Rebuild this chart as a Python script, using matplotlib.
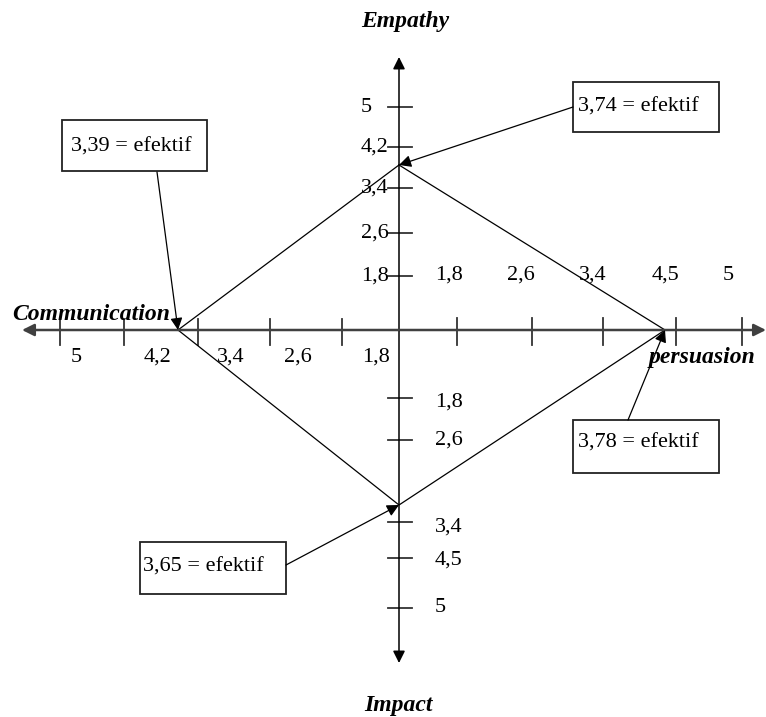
import numpy as np
import matplotlib.pyplot as plt
from matplotlib.patches import Rectangle

plt.rcParams['font.family'] = ['Liberation Serif', 'DejaVu Serif']

# arms of the diagram, in order: up, right, down, left
arm_names = ['Empathy', 'persuasion', 'Impact', 'Communication']
arm_scores = ['3,74', '3,78', '3,65', '3,39']
score_status = ['efektif', 'efektif', 'efektif', 'efektif']
# distance of each diamond corner from the centre
corner_dist = [165, 266, 175, 221]

up_ticks = ['1,8', '2,6', '3,4', '4,2', '5']
right_ticks = ['1,8', '2,6', '3,4', '4,5', '5']
down_ticks = ['1,8', '2,6', '3,4', '4,5', '5']
left_ticks = ['1,8', '2,6', '3,4', '4,2', '5']

# layout (pixel units from the centre of the cross)
up_tick_pos = [54, 97, 142, 183, 223]
right_tick_pos = [58, 133, 204, 277, 343]
down_tick_pos = [68, 110, 192, 228, 278]
left_tick_pos = [57, 129, 201, 275, 339]
right_label_pos = [50, 122, 194, 266, 329]
down_label_pos = [72, 110, 197, 230, 277]
left_label_pos = [23, 101, 168, 241, 323]

directions = [(0, 1), (1, 0), (0, -1), (-1, 0)]
arm_length = [273, 367, 333, 377]
# callout boxes: (x0, y0, width, height), start of arrow, text anchor
boxes = [(174, 198, 146, 50), (174, -143, 146, 53), (-259, -264, 146, 52), (-337, 159, 145, 51)]
arrow_start = [(174, 223), (229, -90), (-113, -235), (-242, 158)]
text_anchor = [(179, 223), (179, -113), (-256, -237), (-328, 183)]

FS = 16
head = '-|>,head_length=0.5,head_width=0.25'


def draw_arrow(ax, start, end, lw, color):
    ax.annotate('', xy=end, xytext=start,
                arrowprops=dict(arrowstyle=head, mutation_scale=14.4, lw=lw,
                                color=color, shrinkA=0, shrinkB=0))


fig = plt.figure(figsize=(7.66, 7.17), dpi=100)
ax = fig.add_axes([0, 0, 1, 1])
ax.set_xlim(-399, 367)
ax.set_ylim(-387, 330)
ax.axis('off')

# axes of the cross
for i, (dx, dy) in enumerate(directions):
    L = arm_length[i]
    if dx != 0:
        draw_arrow(ax, (0, 0), (dx * L, 0), 1.8, '#404040')
    else:
        draw_arrow(ax, (0, 0), (0, dy * L), 1.1, 'black')

# tick marks
for p in right_tick_pos:
    ax.plot([p, p], [12, -15], color='#333333', lw=1.3)
for p in left_tick_pos:
    ax.plot([-p, -p], [11, -15], color='#333333', lw=1.3)
for p in up_tick_pos:
    ax.plot([-11, 13], [p, p], color='#333333', lw=1.3)
for p in down_tick_pos:
    ax.plot([-11, 13], [-p, -p], color='#333333', lw=1.3)

# tick labels
for lab, p in zip(up_ticks, up_tick_pos):
    ax.text(-38, p, lab, fontsize=FS, ha='left', va='center')
for lab, p in zip(right_ticks, right_label_pos):
    ax.text(p, 55, lab, fontsize=FS, ha='center', va='center')
for lab, p in zip(down_ticks, down_label_pos):
    ax.text(36, -p, lab, fontsize=FS, ha='left', va='center')
for lab, p in zip(left_ticks, left_label_pos):
    ax.text(-p, -27, lab, fontsize=FS, ha='center', va='center')

# axis names
name_kw = dict(fontsize=17, fontweight='bold', style='italic', va='center')
ax.text(6, 308, arm_names[0], ha='center', **name_kw)
ax.text(303, -27, arm_names[1], ha='center', **name_kw)
ax.text(-1, -375, arm_names[2], ha='center', **name_kw)
ax.text(-387, 15, arm_names[3], ha='left', **name_kw)

# diamond
corners = np.array([(dx * d, dy * d) for (dx, dy), d in zip(directions, corner_dist)])
closed = np.vstack([corners, corners[:1]])
ax.plot(closed[:, 0], closed[:, 1], color='black', lw=0.9)

# callouts
for i in range(4):
    x0, y0, w, h = boxes[i]
    ax.add_patch(Rectangle((x0, y0), w, h, fill=False, edgecolor='#222222', lw=1.3))
    tx, ty = text_anchor[i]
    ax.text(tx, ty, arm_scores[i] + ' = ' + score_status[i], fontsize=FS, ha='left', va='center')
    draw_arrow(ax, arrow_start[i], tuple(corners[i]), 0.9, 'black')

fig.savefig('out.png', dpi=100)
plt.close()
